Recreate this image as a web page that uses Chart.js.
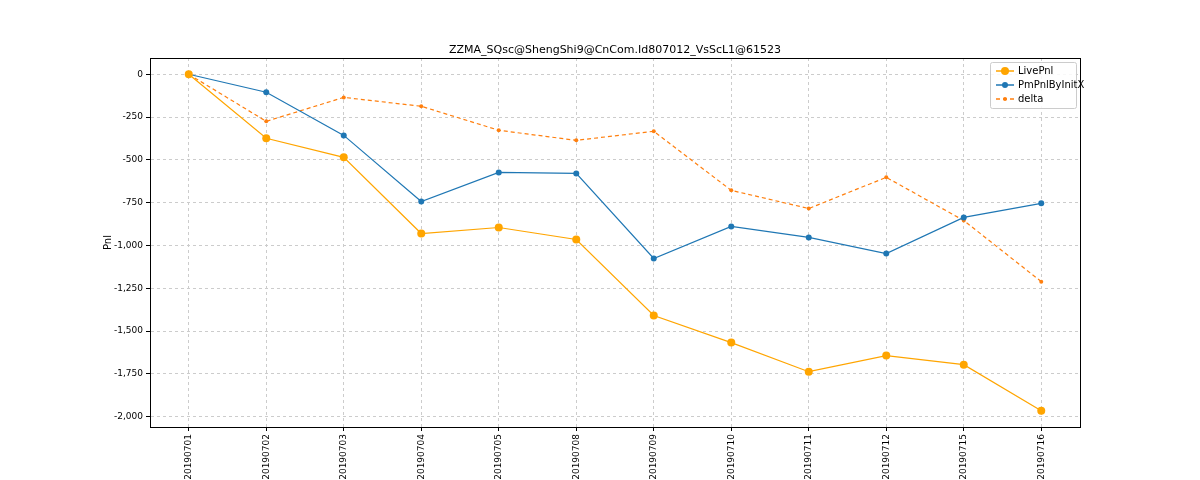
<!DOCTYPE html>
<html>
<head>
<meta charset="utf-8">
<script src="https://cdn.jsdelivr.net/npm/chart.js@4"></script>
<style>
  html, body { margin: 0; padding: 0; background: #fff; }
  #wrap { width: 1200px; height: 480px; }
</style>
</head>
<body>
<div id="wrap"><canvas id="chart"></canvas></div>
<script>
const chartTitle = "ZZMA_SQsc@ShengShi9@CnCom.Id807012_VsScL1@61523";
const dates = ["20190701", "20190702", "20190703", "20190704", "20190705", "20190708",
    "20190709", "20190710", "20190711", "20190712", "20190715", "20190716"];
const livePnl = [0, -374, -485, -930, -895, -965, -1409, -1567, -1737, -1643, -1696, -1965];
const pmPnlByInitX = [0, -105, -357, -743, -573, -579, -1076, -889, -953, -1047, -836, -754];
const delta = [0, -275, -135, -187, -327, -386, -333, -678, -784, -602, -854, -1211];
const yTicks = [0, -250, -500, -750, -1000, -1250, -1500, -1750, -2000];

// Frame, title and a legend inside the plot, like matplotlib.
const mplDecor = {
    id: "mplDecor",
    afterDraw(chart) {
        const ctx = chart.ctx;
        const area = chart.chartArea;
        ctx.save();
        ctx.strokeStyle = "#000";
        ctx.lineWidth = 1;
        ctx.strokeRect(Math.round(area.left) + 0.5, Math.round(area.top) + 0.5,
            Math.round(area.width), Math.round(area.height));

        ctx.fillStyle = "#000";
        ctx.font = "11px 'DejaVu Sans'";
        ctx.textAlign = "center";
        ctx.textBaseline = "alphabetic";
        ctx.fillText(chartTitle, (area.left + area.right) / 2, area.top - 5);

        ctx.save();
        ctx.translate(108, (area.top + area.bottom) / 2);
        ctx.rotate(-Math.PI / 2);
        ctx.font = "10px 'DejaVu Sans'";
        ctx.textBaseline = "middle";
        ctx.fillText("Pnl", 0, 0);
        ctx.restore();

        const w = 86, h = 46;
        const x = area.right - w - 4, y = area.top + 4;
        ctx.fillStyle = "rgba(255,255,255,0.85)";
        ctx.strokeStyle = "#ccc";
        ctx.beginPath();
        ctx.roundRect(x + 0.5, y + 0.5, w, h, 2);
        ctx.fill();
        ctx.stroke();
        ctx.font = "10px 'DejaVu Sans'";
        ctx.textAlign = "left";
        ctx.textBaseline = "middle";
        chart.data.datasets.forEach((ds, i) => {
            const cy = y + 9 + i * 14;
            ctx.strokeStyle = ds.borderColor;
            ctx.lineWidth = 1.5;
            ctx.setLineDash(ds.borderDash || []);
            ctx.beginPath();
            ctx.moveTo(x + 6, cy);
            ctx.lineTo(x + 24, cy);
            ctx.stroke();
            ctx.setLineDash([]);
            ctx.fillStyle = ds.borderColor;
            ctx.beginPath();
            ctx.arc(x + 15, cy, ds.pointRadius, 0, Math.PI * 2);
            ctx.fill();
            ctx.fillStyle = "#000";
            ctx.fillText(ds.label, x + 28, cy);
        });
        ctx.restore();
    },
};

new Chart(document.getElementById("chart"), {
    type: "line",
    data: {
        labels: dates,
        datasets: [
            { label: "LivePnl", data: livePnl, borderColor: "#ffa500", backgroundColor: "#ffa500",
              borderWidth: 1.2, pointRadius: 4, pointBorderWidth: 0, tension: 0 },
            { label: "PmPnlByInitX", data: pmPnlByInitX, borderColor: "#1f77b4", backgroundColor: "#1f77b4",
              borderWidth: 1.2, pointRadius: 3, pointBorderWidth: 0, tension: 0 },
            { label: "delta", data: delta, borderColor: "#ff7f0e", backgroundColor: "#ff7f0e",
              borderWidth: 1.2, borderDash: [4, 3], pointRadius: 2, pointBorderWidth: 0, tension: 0 },
        ],
    },
    options: {
        responsive: true,
        maintainAspectRatio: false,
        animation: false,
        layout: { padding: { left: 0, right: 120, top: 58, bottom: 0 } },
        plugins: {
            legend: { display: false },
            tooltip: { enabled: false },
        },
        scales: {
            x: {
                offset: true,
                border: { color: "#000", dash: [3, 3] },
                grid: { color: "#ccc", tickColor: "#000", tickLength: 4, offset: false },
                ticks: { color: "#000", maxRotation: 90, minRotation: 90, autoSkip: false,
                         font: { family: "DejaVu Sans", size: 9 } },
                afterFit(scale) { scale.height = 53; },
            },
            y: {
                min: -2060,
                max: 95,
                border: { color: "#000", dash: [3, 3] },
                grid: { color: "#ccc", tickColor: "#000", tickLength: 4 },
                afterBuildTicks(scale) { scale.ticks = yTicks.map(v => ({ value: v })); },
                ticks: { color: "#000", font: { family: "DejaVu Sans", size: 9 } },
                afterFit(scale) { scale.width = 150; },
            },
        },
    },
    plugins: [mplDecor],
});
</script>
</body>
</html>
